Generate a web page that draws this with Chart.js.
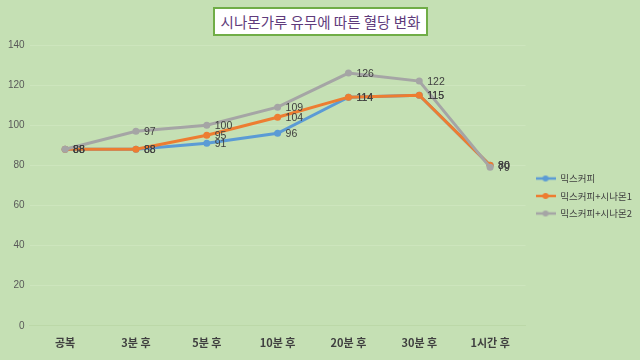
<!DOCTYPE html>
<html><head><meta charset="utf-8">
<script src="https://cdn.jsdelivr.net/npm/chart.js@4/dist/chart.umd.min.js"></script>
<style>
html,body{margin:0;padding:0;background:#c5e0b4;}
#wrap{position:relative;width:640px;height:360px;background:#c5e0b4;}
#c{position:absolute;left:0;top:0;}
#title{position:absolute;left:213px;top:7px;width:215px;height:29px;box-sizing:border-box;border:2px solid #70ad47;background:#fff;font-family:"Noto Sans CJK KR","Noto Sans";font-size:14.5px;color:#5f3b7c;text-align:center;line-height:25px;white-space:nowrap;overflow:hidden;}
</style></head>
<body><div id="wrap"><canvas id="c" width="640" height="360" style="width:640px;height:360px"></canvas><div id="title">시나몬가루 유무에 따른 혈당 변화</div></div>
<script>
const categories = ['공복','3분 후','5분 후','10분 후','20분 후','30분 후','1시간 후'];
const seriesNames = ['믹스커피','믹스커피+시나몬1','믹스커피+시나몬2'];
const mixCoffee = [88,88,91,96,114,115,80];
const cinnamon1 = [88,88,95,104,114,115,80];
const cinnamon2 = [88,97,100,109,126,122,79];
const yTicks = [0,20,40,60,80,100,120,140];
const colors = ['#5b9bd5','#ed7d31','#a5a5a5'];
const seriesValues = [mixCoffee, cinnamon1, cinnamon2];

function legendIcon(color){
  const cv = document.createElement('canvas');
  cv.width = 20; cv.height = 8;
  const x = cv.getContext('2d');
  x.strokeStyle = color; x.lineWidth = 2.5;
  x.beginPath(); x.moveTo(0,4); x.lineTo(20,4); x.stroke();
  x.fillStyle = color; x.beginPath(); x.arc(10,4,3,0,Math.PI*2); x.fill();
  return cv;
}

const dataLabels = {
  id:'dataLabels',
  afterDatasetsDraw(chart){
    const ctx = chart.ctx;
    ctx.save();
    ctx.font = '10.5px "Liberation Sans", Arial, sans-serif';
    ctx.fillStyle = '#404040';
    ctx.textBaseline = 'middle';
    ctx.textAlign = 'left';
    chart.data.datasets.forEach((ds,i)=>{
      const meta = chart.getDatasetMeta(i);
      meta.data.forEach((pt,j)=>{
        ctx.fillText(String(ds.data[j]), pt.x+8, pt.y+1);
      });
    });
    ctx.restore();
  }
};

const legendShift = {
  id:'legendShift',
  afterLayout(chart){
    if (chart.legend){ chart.legend.top -= 6; chart.legend.bottom -= 6; chart.legend.left += 2; chart.legend.right += 2; }
  }
};

new Chart(document.getElementById('c'), {
  type:'line',
  data:{
    labels: categories,
    datasets: seriesNames.map((n,i)=>({
      label:n,
      data: seriesValues[i],
      borderColor: colors[i],
      backgroundColor: colors[i],
      borderWidth: 3,
      pointRadius: 3.5,
      pointBorderWidth: 0,
      pointHoverRadius: 3.5,
      tension: 0,
      order: 3-i
    }))
  },
  options:{
    responsive:false,
    animation:false,
    devicePixelRatio:1,
    layout:{padding:{left:3,right:0,top:45,bottom:1}},
    plugins:{
      tooltip:{enabled:false},
      title:{display:false},
      legend:{
        position:'right',
        align:'center',
        labels:{
          font:{family:'"Noto Sans CJK KR"',size:9.5},
          color:'#404040',
          usePointStyle:true,
          pointStyleWidth:20,
          boxHeight:8,
          padding:8,
          generateLabels(chart){
            return chart.data.datasets.map((ds,i)=>({
              text: ds.label,
              pointStyle: legendIcon(colors[i]),
              fillStyle: colors[i],
              strokeStyle: colors[i],
              lineWidth:0,
              hidden:false,
              datasetIndex:i,
              fontColor:'#404040'
            }));
          }
        }
      }
    },
    scales:{
      x:{
        offset:true,
        grid:{display:false,drawTicks:false},
        border:{display:true,color:'#bcd8a8'},
        ticks:{font:{family:'"Noto Sans CJK KR"',size:11,weight:'bold'},color:'#404040',padding:10,maxRotation:0}
      },
      y:{
        min:0,max:140,
        afterBuildTicks(axis){ axis.ticks = yTicks.map(v=>({value:v})); },
        grid:{color:'#cde5bd',drawTicks:false},
        border:{display:false},
        ticks:{font:{family:'"Liberation Sans"',size:10},color:'#595959',padding:5}
      }
    }
  },
  plugins:[dataLabels, legendShift]
});
</script>
</body></html>
